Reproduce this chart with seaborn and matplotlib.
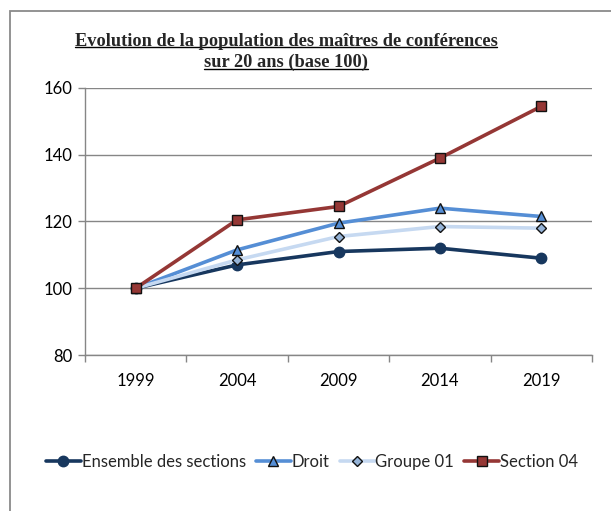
import matplotlib
matplotlib.use("Agg")
import matplotlib.pyplot as plt
import seaborn as sns
import pandas as pd
from matplotlib.lines import Line2D
from matplotlib.patches import Rectangle

years = ["1999", "2004", "2009", "2014", "2019"]
ensemble = [100, 107, 111, 112, 109]
droit = [100, 111.5, 119.5, 124, 121.5]
groupe01 = [100, 108.5, 115.5, 118.5, 118]
section04 = [100, 120.5, 124.5, 139, 154.5]
series_names = ["Ensemble des sections", "Droit", "Groupe 01", "Section 04"]
series_values = [ensemble, droit, groupe01, section04]

styles = {
    "Ensemble des sections": dict(color="#17375E", marker="o", mfc="#17375E", mec="#17375E", ms=7.5),
    "Droit": dict(color="#558ED5", marker="^", mfc="#558ED5", mec="#111111", ms=7.5),
    "Groupe 01": dict(color="#C6D9F1", marker="D", mfc="#95B3D7", mec="#111111", ms=5.5),
    "Section 04": dict(color="#953735", marker="s", mfc="#953735", mec="#111111", ms=7.5),
}

sns.set_theme(style="white")
plt.rcParams["font.family"] = ["Lato", "DejaVu Sans"]

fig = plt.figure(figsize=(6.11, 5.11), dpi=100)
ax = fig.add_axes([85/611, 1-355/511, (592-85)/611, (355-88)/511])

pos = list(range(len(years)))
for name, vals in zip(series_names, series_values):
    df = pd.DataFrame({"x": pos, "y": vals})
    st = styles[name]
    sns.lineplot(data=df, x="x", y="y", ax=ax, color=st["color"], linewidth=2.6,
                 marker=st["marker"], markersize=st["ms"], markerfacecolor=st["mfc"],
                 markeredgecolor=st["mec"], markeredgewidth=1.0, label=name, legend=False)

ax.set_xlim(-0.5, len(years) - 0.5)
ax.set_ylim(80, 160)
ax.set_yticks([80, 100, 120, 140, 160])
ax.set_xticks(pos)
ax.set_xticklabels(years)
ax.set_xticks([p - 0.5 for p in pos] + [len(years) - 0.5], minor=True)
ax.tick_params(axis="x", which="major", length=0, pad=13, labelsize=12, colors="#000000")
ax.tick_params(axis="x", which="minor", length=5, width=1, color="#868686", direction="out", bottom=True)
ax.tick_params(axis="y", which="major", length=5, width=1, color="#868686", direction="out", left=True,
               labelsize=12, colors="#000000", pad=4)
for lbl in ax.get_yticklabels() + ax.get_xticklabels():
    lbl.set_color("#000000")
ax.set_xlabel("")
ax.set_ylabel("")
ax.grid(axis="y", color="#868686", linewidth=1)
ax.grid(axis="x", visible=False)
for s in ["top", "right"]:
    ax.spines[s].set_visible(False)
for s in ["left", "bottom"]:
    ax.spines[s].set_color("#868686")
    ax.spines[s].set_linewidth(1)

# outer frame
fig.patches.append(Rectangle((10/611, -0.1), 1.2, 1 - 11/511 + 0.1, transform=fig.transFigure,
                             fill=False, edgecolor="#8a8a8a", linewidth=1.3))

# title with underline
t1 = fig.text(286/611, 1-41/511, "Evolution de la population des maîtres de conférences",
              ha="center", va="center", fontsize=13.2, fontweight="bold", family="Liberation Serif")
t2 = fig.text(286/611, 1-62/511, "sur 20 ans (base 100)",
              ha="center", va="center", fontsize=13.2, fontweight="bold", family="Liberation Serif")
fig.canvas.draw()
r = fig.canvas.get_renderer()
for t in (t1, t2):
    bb = t.get_window_extent(renderer=r).transformed(fig.transFigure.inverted())
    y = bb.y0 + 0.004
    fig.add_artist(Line2D([bb.x0, bb.x1], [y, y], transform=fig.transFigure, color="black", linewidth=1.0))

handles = [Line2D([], [], color=styles[n]["color"], linewidth=2.6, marker=styles[n]["marker"],
                  markersize=styles[n]["ms"], markerfacecolor=styles[n]["mfc"],
                  markeredgecolor=styles[n]["mec"], markeredgewidth=1.0) for n in series_names]
fig.legend(handles, series_names, loc="center", bbox_to_anchor=(312/611, 1-462/511), ncol=4,
           frameon=False, fontsize=12, handlelength=2.1, handletextpad=0.05, columnspacing=0.6,
           borderaxespad=0)

fig.savefig("out.png", dpi=100)
